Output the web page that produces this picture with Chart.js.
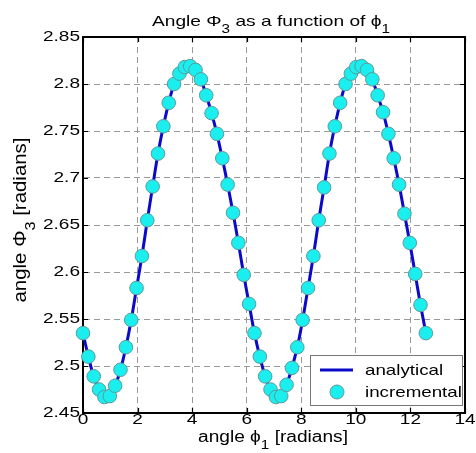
<!DOCTYPE html>
<html>
<head>
<meta charset="utf-8">
<script src="https://cdn.jsdelivr.net/npm/chart.js"></script>
<style>
  html, body { margin: 0; padding: 0; background: #fff; }
  #wrap { width: 476px; height: 453px; }
</style>
</head>
<body>
<div id="wrap"><canvas id="chart" width="476" height="453"></canvas></div>
<script>
// angle phi1 [radians] at each sample
const phi1 = [0, 0.196, 0.393, 0.589, 0.785, 0.982, 1.178, 1.374, 1.571, 1.767,
  1.963, 2.160, 2.356, 2.553, 2.749, 2.945, 3.142, 3.338, 3.534, 3.731,
  3.927, 4.123, 4.320, 4.516, 4.712, 4.909, 5.105, 5.301, 5.498, 5.694,
  5.890, 6.087, 6.283, 6.480, 6.676, 6.872, 7.069, 7.265, 7.461, 7.658,
  7.854, 8.050, 8.247, 8.443, 8.639, 8.836, 9.032, 9.228, 9.425, 9.621,
  9.817, 10.014, 10.210, 10.407, 10.603, 10.799, 10.996, 11.192, 11.388, 11.585,
  11.781, 11.977, 12.174, 12.370, 12.566];

// angle Phi3 [radians], analytical solution
const phi3Analytical = [2.535, 2.510, 2.489, 2.475, 2.467, 2.468, 2.479, 2.496, 2.520, 2.549,
  2.583, 2.617, 2.655, 2.691, 2.726, 2.755, 2.780, 2.800, 2.811, 2.818,
  2.819, 2.815, 2.805, 2.788, 2.769, 2.747, 2.721, 2.693, 2.663, 2.631,
  2.597, 2.566, 2.535, 2.510, 2.489, 2.475, 2.467, 2.468, 2.480, 2.498,
  2.520, 2.549, 2.583, 2.617, 2.655, 2.690, 2.726, 2.755, 2.780, 2.800,
  2.811, 2.818, 2.819, 2.815, 2.805, 2.788, 2.770, 2.747, 2.721, 2.693,
  2.662, 2.631, 2.598, 2.565, 2.535];

// angle Phi3 [radians], incremental solution (markers)
const phi3Incremental = [2.535, 2.510, 2.489, 2.475, 2.467, 2.468, 2.479, 2.496, 2.520, 2.549,
  2.583, 2.617, 2.655, 2.691, 2.726, 2.755, 2.780, 2.800, 2.811, 2.818,
  2.819, 2.815, 2.805, 2.788, 2.769, 2.747, 2.721, 2.693, 2.663, 2.631,
  2.597, 2.566, 2.535, 2.510, 2.489, 2.475, 2.467, 2.468, 2.480, 2.498,
  2.520, 2.549, 2.583, 2.617, 2.655, 2.690, 2.726, 2.755, 2.780, 2.800,
  2.811, 2.818, 2.819, 2.815, 2.805, 2.788, 2.770, 2.747, 2.721, 2.693,
  2.662, 2.631, 2.598, 2.565, 2.535];

const xTicks = [0, 2, 4, 6, 8, 10, 12, 14];
const yTicks = [2.45, 2.5, 2.55, 2.6, 2.65, 2.7, 2.75, 2.8, 2.85];

const FONT = '"Liberation Sans", Arial, sans-serif';
const BLUE = '#0a0ac8';
const CYAN = '#1aeeee';
const CYAN_EDGE = '#5c9a9a';

// text with subscripts, stretched along the baseline
function richWidth(ctx, parts, size) {
  let w = 0;
  for (const [t, sub] of parts) {
    ctx.font = (sub ? size * 0.8 : size) + 'px ' + FONT;
    w += ctx.measureText(t).width;
  }
  return w;
}
function drawRich(ctx, parts, x, y, size, stretch, align) {
  const w = richWidth(ctx, parts, size);
  ctx.save();
  ctx.translate(x, y);
  ctx.scale(stretch, 1);
  ctx.textAlign = 'left';
  ctx.textBaseline = 'alphabetic';
  ctx.fillStyle = '#000';
  let cx = align === 'center' ? -w / 2 : align === 'right' ? -w : 0;
  for (const [t, sub] of parts) {
    ctx.font = (sub ? size * 0.8 : size) + 'px ' + FONT;
    ctx.fillText(t, cx, sub ? size * 0.45 : 0);
    cx += ctx.measureText(t).width;
  }
  ctx.restore();
}
function fitStretch(ctx, parts, size, target) {
  return target / richWidth(ctx, parts, size);
}

const deco = {
  id: 'deco',
  afterDraw(chart) {
    const { ctx, chartArea: a, scales: { x, y } } = chart;
    ctx.save();
    // top / right frame
    ctx.strokeStyle = '#000';
    ctx.lineWidth = 2;
    ctx.beginPath();
    ctx.moveTo(a.left, a.top);
    ctx.lineTo(a.right, a.top);
    ctx.lineTo(a.right, a.bottom);
    ctx.stroke();
    // inward tick marks on all four sides
    ctx.lineWidth = 1.2;
    ctx.beginPath();
    x.ticks.forEach(t => {
      const px = Math.round(x.getPixelForValue(t.value)) + 0.5;
      ctx.moveTo(px, a.bottom); ctx.lineTo(px, a.bottom - 5);
      ctx.moveTo(px, a.top); ctx.lineTo(px, a.top + 5);
    });
    y.ticks.forEach(t => {
      const py = Math.round(y.getPixelForValue(t.value)) + 0.5;
      ctx.moveTo(a.left, py); ctx.lineTo(a.left + 5, py);
      ctx.moveTo(a.right, py); ctx.lineTo(a.right - 5, py);
    });
    ctx.stroke();

    // tick labels
    x.ticks.forEach(t => {
      const px = x.getPixelForValue(t.value);
      drawRich(ctx, [[String(t.value), false]], px, a.bottom + 11, 15, 1.27, 'center');
    });
    y.ticks.forEach(t => {
      const py = y.getPixelForValue(t.value);
      drawRich(ctx, [[String(parseFloat(t.value.toFixed(2))), false]], a.left - 3, py + 4, 15, 1.27, 'right');
    });

    // title
    const title = [['Angle \u03A6', false], ['3', true], [' as a function of \u03D5', false], ['1', true]];
    drawRich(ctx, title, 271, 26, 15, fitStretch(ctx, title, 15, 238), 'center');

    // x axis title
    const xt = [['angle \u03D5', false], ['1', true], [' [radians]', false]];
    drawRich(ctx, xt, 273, 442, 16, fitStretch(ctx, xt, 16, 150), 'center');

    // y axis title
    const yt = [['angle \u03A6', false], ['3', true], [' [radians]', false]];
    ctx.save();
    ctx.translate(26, 220);
    ctx.rotate(-Math.PI / 2);
    drawRich(ctx, yt, 0, 0, 19, fitStretch(ctx, yt, 19, 165), 'center');
    ctx.restore();

    // legend box
    const ds = chart.data.datasets;
    const lx = 310, ly = 355, lw = 152, lh = 50;
    ctx.fillStyle = '#fff';
    ctx.fillRect(lx, ly, lw, lh);
    ctx.strokeStyle = '#777';
    ctx.lineWidth = 1;
    ctx.strokeRect(lx + 0.5, ly + 0.5, lw, lh);
    const lineDs = ds.find(d => d.showLine);
    const markDs = ds.find(d => !d.showLine);
    ctx.strokeStyle = lineDs.borderColor;
    ctx.lineWidth = 3;
    ctx.beginPath();
    ctx.moveTo(320, 370); ctx.lineTo(353, 370);
    ctx.stroke();
    ctx.fillStyle = markDs.pointBackgroundColor;
    ctx.strokeStyle = markDs.pointBorderColor;
    ctx.lineWidth = 1;
    ctx.beginPath();
    ctx.arc(337, 392, 7, 0, Math.PI * 2);
    ctx.fill(); ctx.stroke();
    drawRich(ctx, [[lineDs.label, false]], 365, 375, 15, 1.25, 'left');
    drawRich(ctx, [[markDs.label, false]], 365, 397, 15, 1.25, 'left');
    ctx.restore();
  }
};

new Chart(document.getElementById('chart').getContext('2d'), {
  type: 'scatter',
  data: {
    datasets: [
      {
        label: 'incremental',
        data: phi1.map((v, i) => ({ x: v, y: phi3Incremental[i] })),
        showLine: false,
        pointRadius: 6.8,
        pointBackgroundColor: CYAN,
        pointBorderColor: CYAN_EDGE,
        pointBorderWidth: 1,
        clip: false,
        order: 0
      },
      {
        label: 'analytical',
        data: phi1.map((v, i) => ({ x: v, y: phi3Analytical[i] })),
        showLine: true,
        borderColor: BLUE,
        borderWidth: 3,
        tension: 0.3,
        pointRadius: 0,
        order: 1
      }
    ]
  },
  options: {
    responsive: false,
    animation: false,
    devicePixelRatio: 1,
    layout: { padding: { top: 37, right: 11, left: 0, bottom: 0 } },
    plugins: { legend: { display: false }, tooltip: { enabled: false }, title: { display: false } },
    scales: {
      x: {
        type: 'linear',
        min: 0, max: 14,
        afterBuildTicks: s => { s.ticks = xTicks.map(v => ({ value: v })); },
        afterFit: s => { s.height = 40; },
        ticks: { display: false },
        grid: { color: '#999', lineWidth: 1, drawTicks: false },
        border: { display: true, color: '#000', width: 2, dash: [6, 4] }
      },
      y: {
        type: 'linear',
        min: 2.45, max: 2.85,
        afterBuildTicks: s => { s.ticks = yTicks.map(v => ({ value: v })); },
        afterFit: s => { s.width = 83; },
        ticks: { display: false },
        grid: { color: '#999', lineWidth: 1, drawTicks: false },
        border: { display: true, color: '#000', width: 2, dash: [6, 4] }
      }
    }
  },
  plugins: [deco]
});
</script>
</body>
</html>
